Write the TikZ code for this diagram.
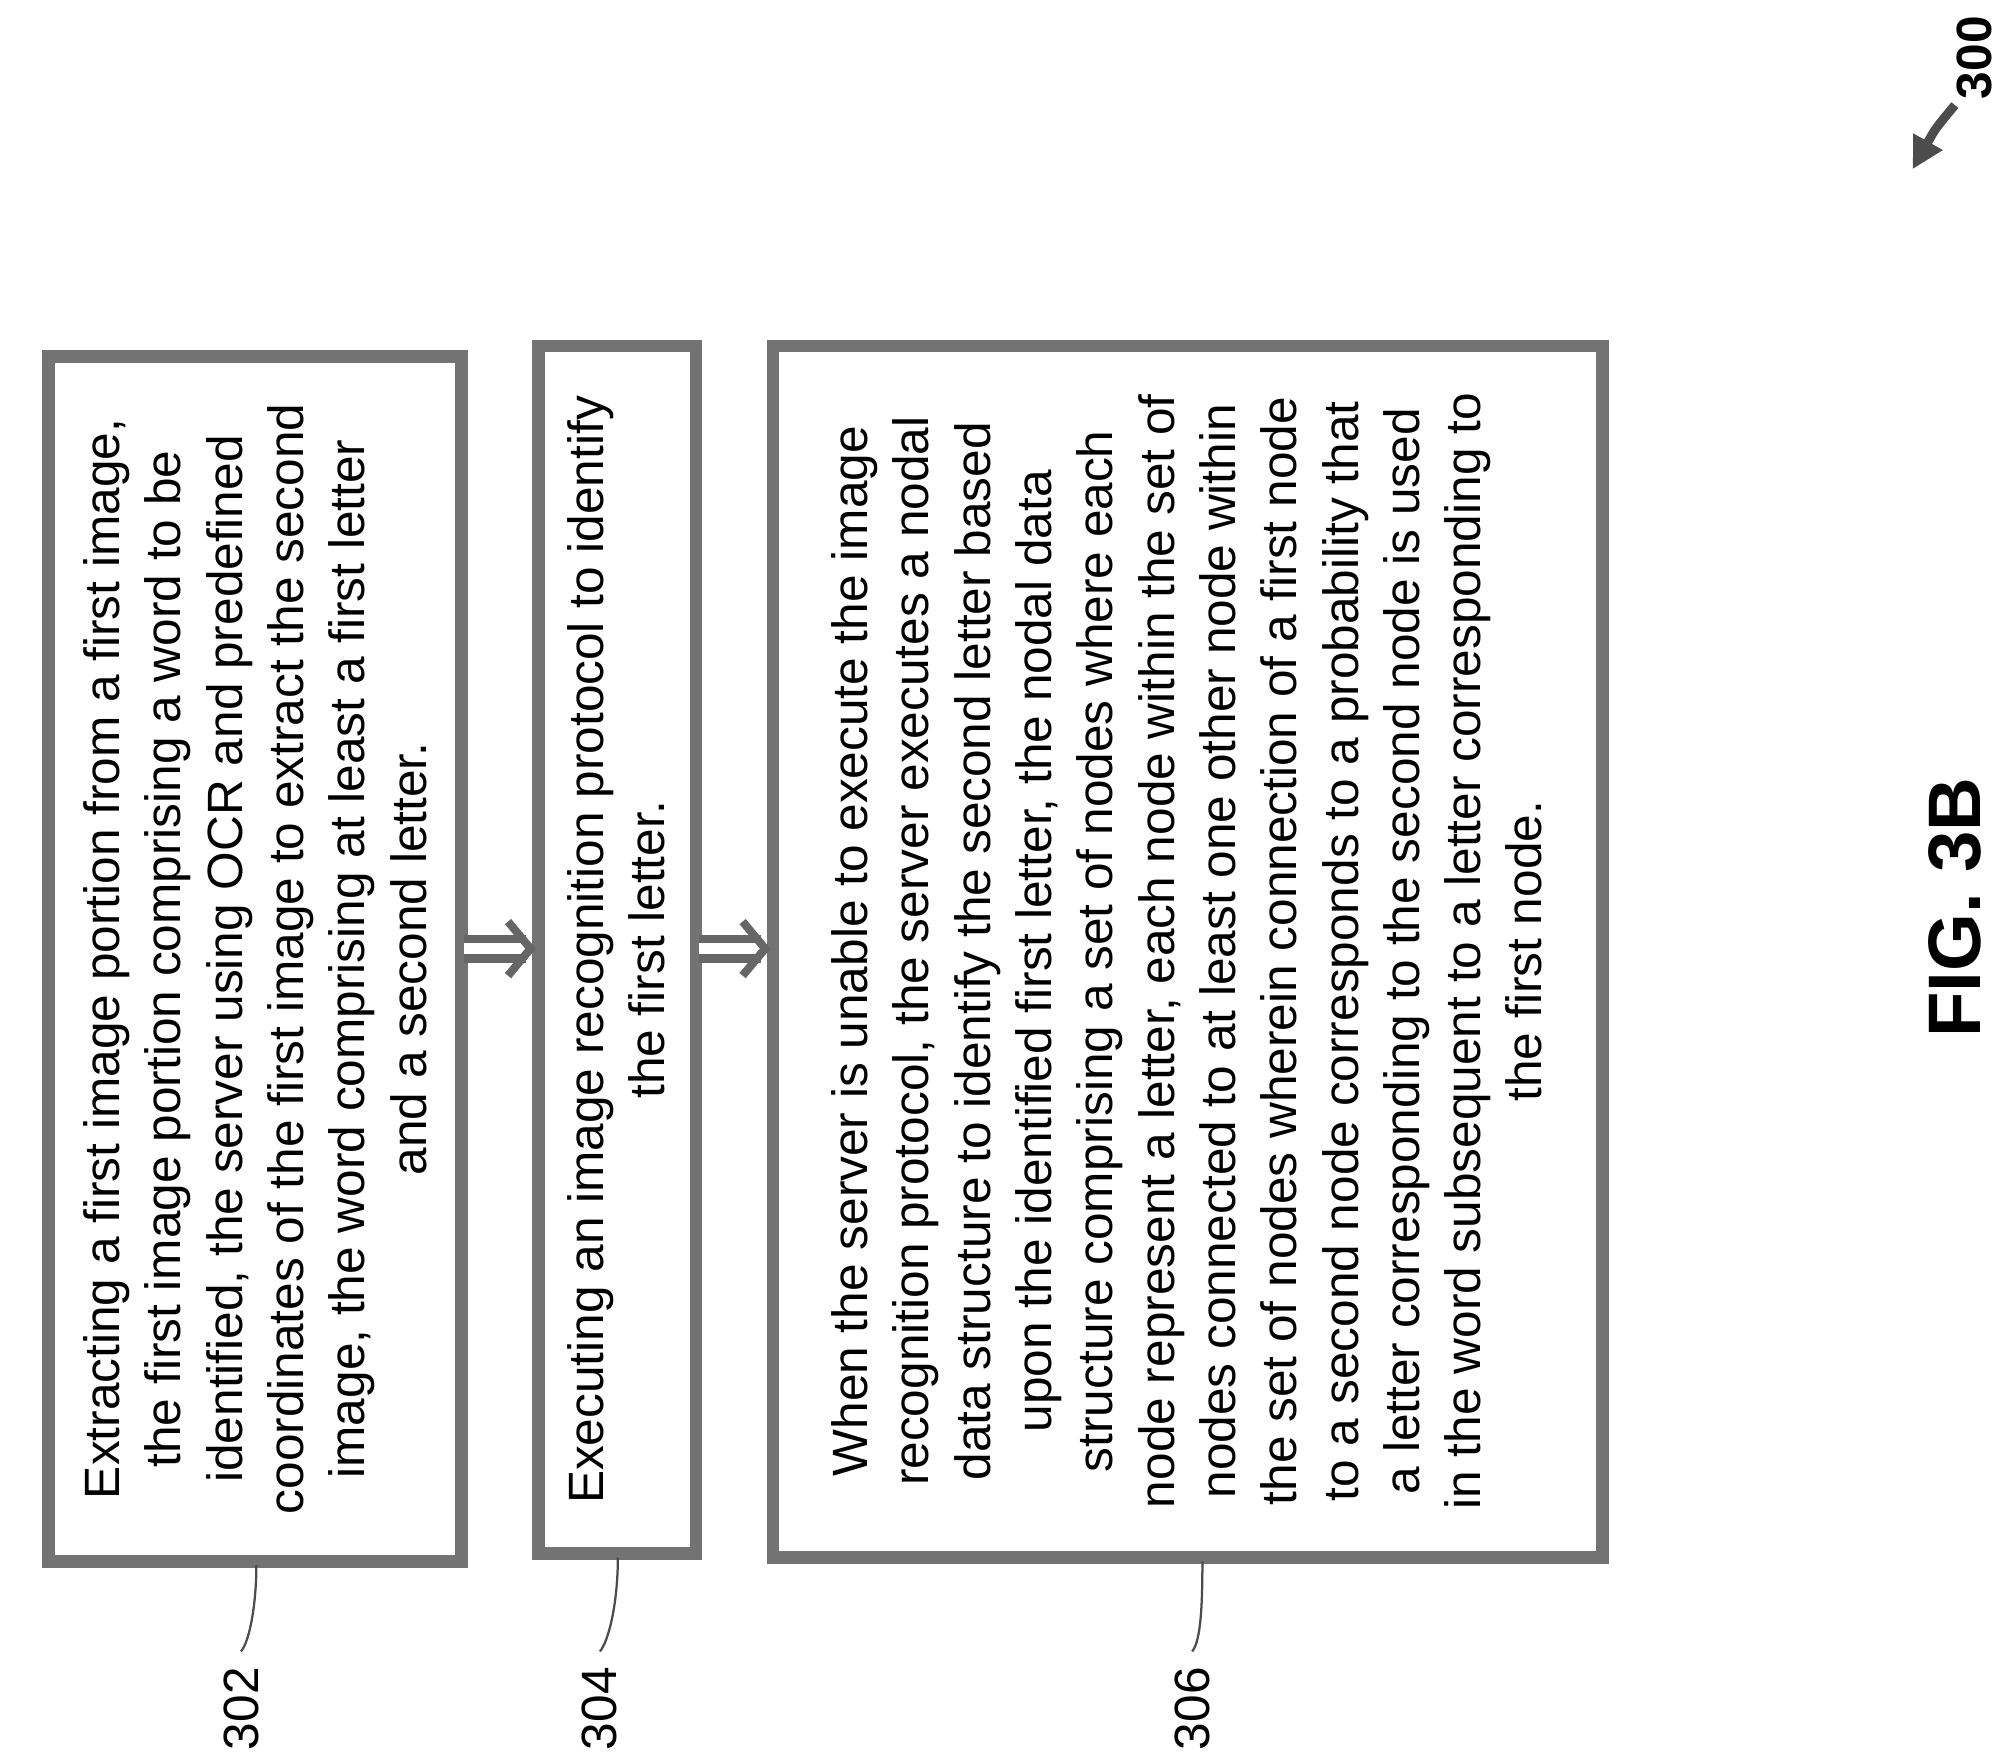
\documentclass[tikz,border=0pt]{standalone}
\usepackage{fontspec}
\setmainfont{Liberation Sans}
\usetikzlibrary{arrows.meta}
\begin{document}
\begin{tikzpicture}[x=0.01cm, y=-0.01cm,
  frame/.style={draw=black!55, line width=2.8pt},
  steptext/.style={rotate=90, align=center,
    font=\fontsize{11}{13.6}\selectfont, inner sep=0pt},
  flow/.style={double=white, double distance=2.6pt, draw=black!60, line width=1.8pt,
    -{Straight Barb[length=5pt,width=12pt]}},
  refnum/.style={rotate=90, font=\fontsize{11}{13}\selectfont},
  leader/.style={draw=black!70, line width=0.5pt}]

\useasboundingbox (0,0) rectangle (1568,1375);

% the three steps, written along the page height
\draw[frame] (38,278) rectangle (360,1218);
\draw[frame] (420,270) rectangle (543,1212);
\draw[frame] (603,270) rectangle (1250,1215);

\path
(199,748) node[steptext] (extract) {Extracting a first image portion from a first image,\\
the first image portion comprising a word to be\\
identified, the server using OCR and predefined\\
coordinates of the first image to extract the second\\
image, the word comprising at least a first letter\\
and a second letter.}
(481,741) node[steptext] (recog) {Executing an image recognition protocol to identify\\
the first letter.}
(926,742) node[steptext] (nodal) {When the server is unable to execute the image\\
recognition protocol, the server executes a nodal\\
data structure to identify the second letter based\\
upon the identified first letter, the nodal data\\
structure comprising a set of nodes where each\\
node represent a letter, each node within the set of\\
nodes connected to at least one other node within\\
the set of nodes wherein connection of a first node\\
to a second node corresponds to a probability that\\
a letter corresponding to the second node is used\\
in the word subsequent to a letter corresponding to\\
the first node.};

\coordinate (extractE) at (362,740);
\coordinate (recogW) at (418,740);
\coordinate (recogE) at (545,740);
\coordinate (nodalW) at (601,740);
\draw[flow] (extractE) -- (recogW);
\draw[flow] (recogE) -- (nodalW);

% reference numerals
\path
(188,1333) node[refnum] (n302) {302}
(468,1333) node[refnum] (n304) {304}
(930,1333) node[refnum] (n306) {306};
\coordinate (box302) at (200,1221);
\coordinate (box304) at (482,1215);
\coordinate (box306) at (938,1218);
\draw[leader] (n302.east) .. controls (195,1280) and (200,1250) .. (box302);
\draw[leader] (n304.east) .. controls (475,1280) and (482,1250) .. (box304);
\draw[leader] (n306.east) .. controls (937,1280) and (938,1250) .. (box306);

\path (1540,45) node[refnum, font=\bfseries\fontsize{11}{13}\selectfont] (n300) {300};
\coordinate (fig) at (1492,132);
\draw[black!70, line width=2pt, -{Triangle[length=7pt,width=7pt]}]
  (1525,82) .. controls (1510,100) .. (fig);

\path (1525,708) node[rotate=90, font=\bfseries\fontsize{16.5}{20}\selectfont] (title) {FIG. 3B};

\end{tikzpicture}
\end{document}
